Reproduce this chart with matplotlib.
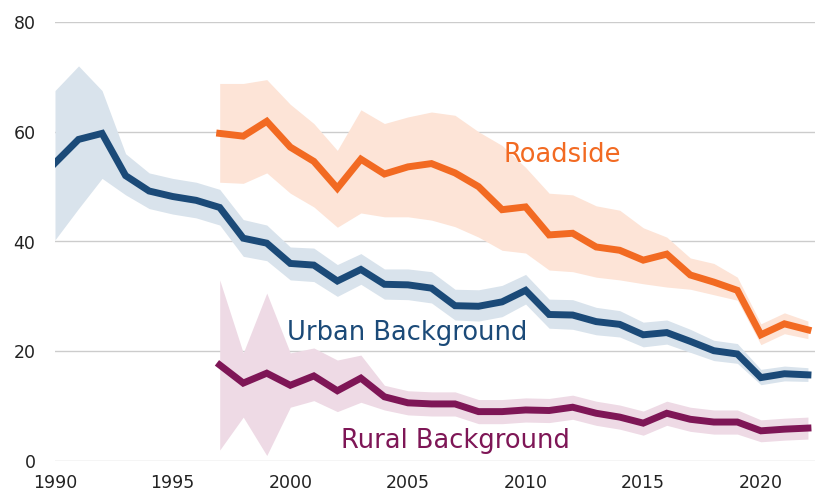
import matplotlib
matplotlib.use("Agg")
import matplotlib.pyplot as plt
import numpy as np

years_urban = list(range(1990, 2023))
urban = [54.3, 58.6, 59.7, 52.0, 49.2, 48.2, 47.5, 46.2, 40.6, 39.7, 36.0, 35.7, 32.8,
         34.9, 32.2, 32.1, 31.5, 28.3, 28.2, 29.0, 31.1, 26.7, 26.6, 25.4, 24.9, 23.0,
         23.4, 21.8, 20.1, 19.5, 15.2, 15.9, 15.7]
urban_hi = [67.5, 72.0, 67.5, 56.0, 52.5, 51.5, 50.8, 49.5, 44.0, 43.0, 39.0, 38.8, 35.8,
            37.8, 35.0, 35.0, 34.5, 31.3, 31.2, 32.0, 34.0, 29.5, 29.4, 28.0, 27.4, 25.3,
            25.7, 24.0, 22.0, 21.4, 16.7, 17.3, 17.0]
urban_lo = [40.3, 46.0, 51.5, 48.5, 46.0, 45.0, 44.3, 43.0, 37.3, 36.5, 33.0, 32.7, 30.0,
            32.2, 29.5, 29.4, 28.8, 25.7, 25.5, 26.3, 28.6, 24.2, 24.0, 23.0, 22.6, 20.8,
            21.3, 19.8, 18.3, 17.8, 13.9, 14.6, 14.5]

years_site = list(range(1997, 2023))
roadside = [59.7, 59.2, 61.9, 57.2, 54.6, 49.7, 55.0, 52.3, 53.6, 54.2, 52.5, 50.0, 45.8,
            46.3, 41.2, 41.5, 39.0, 38.4, 36.6, 37.7, 33.9, 32.6, 31.1, 23.0, 25.0, 23.9]
roadside_hi = [68.8, 68.8, 69.5, 65.0, 61.5, 56.6, 64.0, 61.5, 62.7, 63.6, 63.0, 60.0, 57.5,
               53.5, 48.8, 48.5, 46.5, 45.7, 42.5, 40.8, 37.0, 36.0, 33.5, 25.0, 27.0, 25.5]
roadside_lo = [50.8, 50.6, 52.5, 48.8, 46.3, 42.6, 45.2, 44.5, 44.5, 43.9, 42.7, 40.8, 38.4,
               37.9, 34.8, 34.5, 33.5, 33.0, 32.3, 31.7, 31.3, 30.3, 29.3, 21.2, 23.2, 22.3]

rural = [17.5, 14.2, 16.0, 13.8, 15.5, 12.8, 15.1, 11.7, 10.6, 10.4, 10.4, 9.0, 9.0,
         9.3, 9.2, 9.8, 8.7, 8.0, 6.9, 8.7, 7.6, 7.1, 7.1, 5.5, 5.8, 6.0]
rural_hi = [33.0, 19.7, 30.6, 19.7, 20.6, 18.4, 19.3, 13.8, 12.8, 12.6, 12.6, 11.2, 11.2,
            11.5, 11.4, 12.0, 10.9, 10.2, 9.1, 10.9, 9.8, 9.3, 9.3, 7.5, 7.8, 8.0]
rural_lo = [2.0, 8.0, 1.0, 9.8, 11.0, 9.0, 10.7, 9.3, 8.4, 8.2, 8.2, 6.8, 6.8,
            7.1, 7.0, 7.6, 6.5, 5.8, 4.7, 6.5, 5.4, 4.9, 4.9, 3.5, 3.8, 4.0]

x_ticks = [1990, 1995, 2000, 2005, 2010, 2015, 2020]
y_ticks = [0, 20, 40, 60, 80]

c_road, c_urb, c_rur = "#F26A22", "#1B4A78", "#7E1656"
f_road, f_urb, f_rur = "#FDE4D7", "#D9E3EC", "#EEDAE5"

fig = plt.figure(figsize=(8.15, 4.94), dpi=100)
ax = fig.add_axes([55/815, 33/494, 760/815, 439/494])

ax.fill_between(years_urban, urban_lo, urban_hi, color=f_urb, lw=0, zorder=1)
ax.fill_between(years_site, roadside_lo, roadside_hi, color=f_road, lw=0, zorder=1)
ax.fill_between(years_site, rural_lo, rural_hi, color=f_rur, lw=0, zorder=1)

ax.plot(years_urban, urban, color=c_urb, lw=5, zorder=3, solid_joinstyle="miter")
ax.plot(years_site, roadside, color=c_road, lw=5, zorder=3, solid_joinstyle="miter")
ax.plot(years_site, rural, color=c_rur, lw=5, zorder=3, solid_joinstyle="miter")

ax.text(2009.05, 54.5, "Roadside", color=c_road, fontsize=18.5, ha="left", va="baseline", zorder=4)
ax.text(1999.85, 22.0, "Urban Background", color=c_urb, fontsize=18.5, ha="left", va="baseline", zorder=4)
ax.text(2002.15, 2.4, "Rural Background", color=c_rur, fontsize=18.5, ha="left", va="baseline", zorder=4)

ax.set_xlim(1990, 2022.3)
ax.set_ylim(0, 80)
ax.set_xticks(x_ticks)
ax.set_yticks(y_ticks)
ax.tick_params(axis="both", length=0, labelsize=12.5, colors="#222222")
ax.tick_params(axis="x", pad=9)
ax.tick_params(axis="y", pad=14)
ax.grid(axis="y", color="#cccccc", lw=1, zorder=0)
ax.set_axisbelow(True)
for s in ax.spines.values():
    s.set_visible(False)

fig.savefig("out.png", dpi=100)
